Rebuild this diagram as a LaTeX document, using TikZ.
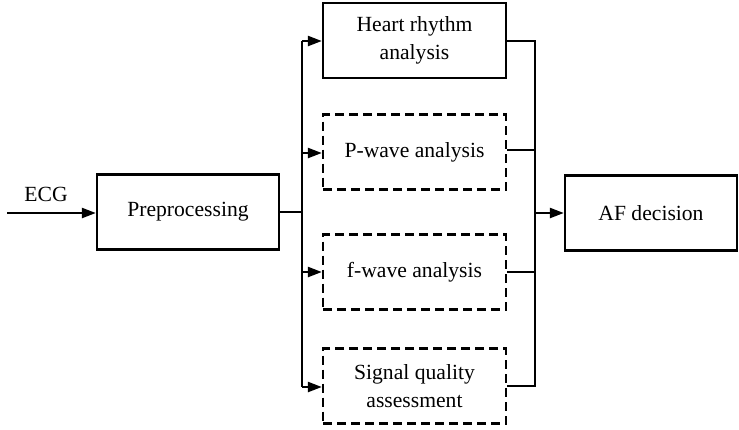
\documentclass[tikz,border=0pt]{standalone}
\usepackage{fontspec}
\setmainfont{Liberation Serif}
\usetikzlibrary{arrows.meta}
\begin{document}
\begin{tikzpicture}[x=1bp,y=-1bp,
  every node/.style={font=\fontsize{21.7}{28}\selectfont, align=center, inner sep=0pt},
  block/.style={draw, line width=2.3bp, minimum height=75bp},
  dblock/.style={block, dash pattern=on 9bp off 5bp},
  wire/.style={line width=2.3bp},
  arr/.style={wire, -{Triangle[length=14bp,width=10bp]}}]
\useasboundingbox (0,0) rectangle (739,429);
% blocks
\node[block, minimum width=182bp] (pre) at (188,212) {Preprocessing};
\node[block, minimum width=183bp] (hr) at (414.5,40.5) {Heart rhythm\\analysis};
\node[dblock, minimum width=183bp] (pw) at (414.5,152) {P-wave analysis};
\node[dblock, minimum width=183bp] (fw) at (414.5,272) {f-wave analysis};
\node[dblock, minimum width=183bp] (sq) at (414.5,386) {Signal quality\\assessment};
\node[block, minimum width=172bp] (af) at (651,213) {AF decision};
% input
\coordinate (in) at (7,213);
\draw[arr] (in) -- (pre.west |- in);
\node (ecg) at (46,194) {ECG};
% fan-out bus
\coordinate (lb) at (302,212);
\draw[wire] (pre.east |- lb) -- (lb);
\draw[wire] (302,41) -- (302,387);
\draw[arr] (302,41) -- (hr.west |- 0,41);
\draw[arr] (302,153) -- (pw.west |- 0,153);
\draw[arr] (302,272) -- (fw.west |- 0,272);
\draw[arr] (302,387) -- (sq.west |- 0,387);
% fan-in bus
\draw[wire] (hr.east |- 0,41) -- (535,41) -- (535,386) -- (sq.east |- 0,386);
\draw[wire] (pw.east |- 0,150) -- (535,150);
\draw[wire] (fw.east |- 0,272) -- (535,272);
\draw[arr] (535,213) -- (af.west);
\end{tikzpicture}
\end{document}
